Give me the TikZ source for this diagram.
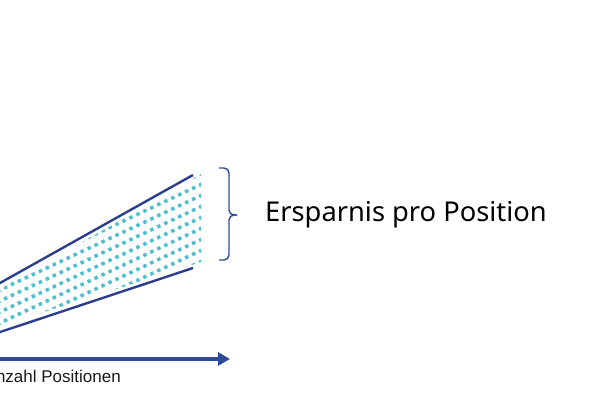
\documentclass[tikz,border=0pt]{standalone}
\usepackage{fontspec}
\setmainfont{Liberation Sans}
\newfontfamily\bracefont{Noto Sans}
\usepackage{tikz}
\usetikzlibrary{arrows.meta,calc}
\definecolor{linenavy}{RGB}{44,62,140}
\definecolor{axisblue}{RGB}{43,74,155}
\definecolor{dotcyan}{RGB}{79,190,208}

\begin{document}
\begin{tikzpicture}[x=1pt,y=-1pt]
    \useasboundingbox (0,0) rectangle (600,403);
    \clip (0,0) rectangle (600,403);
    % wedge
    \coordinate (upA) at (-5,285.8);
    \coordinate (upB) at (193,175);
    \coordinate (loA) at (-5,333.7);
    \coordinate (loB) at (193,268);
    \draw[linenavy, line width=2.4pt] (upA) -- (upB);
    \draw[linenavy, line width=2.4pt] (loA) -- (loB);
    % dotted fill between the two lines
    \begin{scope}
        \clip (-5,292) -- (201,174) -- (201,262) -- (-5,327.7) -- cycle;
        \foreach \c in {268,279,...,356} {
            \draw[dotcyan, line width=3.5pt, dash pattern=on 3.5pt off 4.2pt]
                (-10,\c+4.7) -- (205,\c-96.35);
        }
    \end{scope}
    % axis
    \coordinate (axA) at (-5,359);
    \coordinate (axB) at (230,359);
    \draw[axisblue, line width=4pt, -{Triangle[length=12pt,width=13pt]}] (axA) -- (axB);
    \node[anchor=base east, inner sep=0pt, font=\fontsize{17}{19}\selectfont, text=black!90] (axlabel) at (121,383) {Anzahl Positionen};
    % brace
    \coordinate (brTop) at (219,168);
    \coordinate (brBot) at (219,260);
    \coordinate (brTip) at (237,215);
    \draw[axisblue, line width=1.4pt, rounded corners=5pt] (brTop) -| (229,215) -- (brTip);
    \draw[axisblue, line width=1.4pt, rounded corners=5pt] (brBot) -| (229,215) -- (brTip);
    \node[anchor=base west, inner sep=0pt, font=\bracefont\fontsize{27.3}{30}\selectfont] (saving) at (265,222) {Ersparnis pro Position};
\end{tikzpicture}
\end{document}
